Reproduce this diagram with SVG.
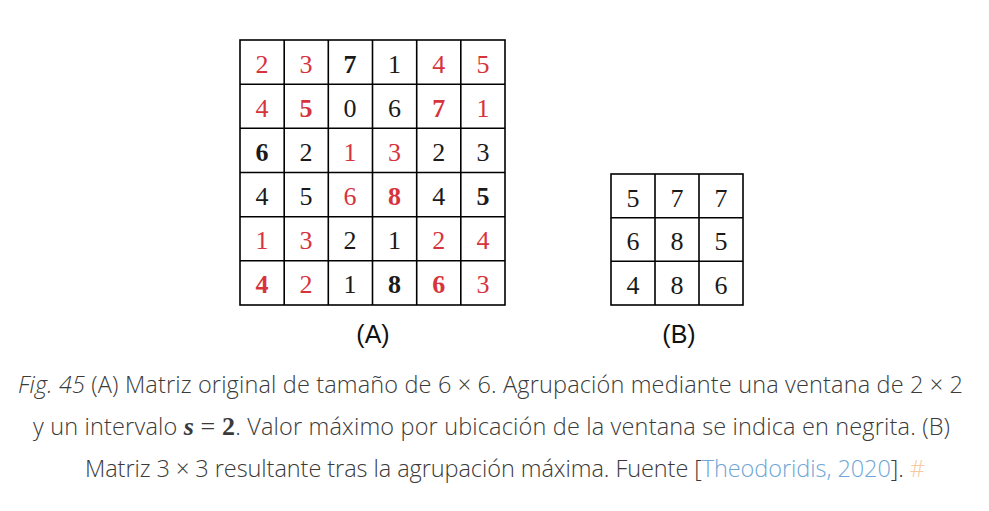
<svg xmlns="http://www.w3.org/2000/svg" width="989" height="511" viewBox="0 0 989 511">
<style>
.cell{fill:#fff;stroke:#000;stroke-width:1.6}
.n{font-family:"Liberation Serif","DejaVu Serif",serif;font-size:26px;text-anchor:middle;fill:#1a1a1a}
.r{fill:#d6343d}
.b{font-weight:bold}
.lab{font-family:"Liberation Sans",Arial,sans-serif;font-size:25px;text-anchor:middle;fill:#111}
.cap{font-family:"Open Sans","Noto Sans",sans-serif;font-weight:300;font-size:23.5px;fill:#3a3a3a}
</style>
<rect width="989" height="511" fill="#fff"/>
<g id="matrixA">
<rect class="cell" x="240" y="40" width="265" height="265"/>
<path d="M284.2 40V305M328.3 40V305M372.5 40V305M416.7 40V305M460.8 40V305M240 84.2H505M240 128.3H505M240 172.5H505M240 216.7H505M240 260.8H505" stroke="#000" stroke-width="1.6" fill="none"/>
<g class="n">
<text x="262" y="72.5" class="r">2</text><text x="306" y="72.5" class="r">3</text><text x="350" y="72.5" class="b">7</text><text x="394.5" y="72.5">1</text><text x="438.7" y="72.5" class="r">4</text><text x="483" y="72.5" class="r">5</text>
<text x="262" y="116.7" class="r">4</text><text x="306" y="116.7" class="r b">5</text><text x="350" y="116.7">0</text><text x="394.5" y="116.7">6</text><text x="438.7" y="116.7" class="r b">7</text><text x="483" y="116.7" class="r">1</text>
<text x="262" y="160.8" class="b">6</text><text x="306" y="160.8">2</text><text x="350" y="160.8" class="r">1</text><text x="394.5" y="160.8" class="r">3</text><text x="438.7" y="160.8">2</text><text x="483" y="160.8">3</text>
<text x="262" y="205">4</text><text x="306" y="205">5</text><text x="350" y="205" class="r">6</text><text x="394.5" y="205" class="r b">8</text><text x="438.7" y="205">4</text><text x="483" y="205" class="b">5</text>
<text x="262" y="249.2" class="r">1</text><text x="306" y="249.2" class="r">3</text><text x="350" y="249.2">2</text><text x="394.5" y="249.2">1</text><text x="438.7" y="249.2" class="r">2</text><text x="483" y="249.2" class="r">4</text>
<text x="262" y="293.3" class="r b">4</text><text x="306" y="293.3" class="r">2</text><text x="350" y="293.3">1</text><text x="394.5" y="293.3" class="b">8</text><text x="438.7" y="293.3" class="r b">6</text><text x="483" y="293.3" class="r">3</text>
</g>
<text class="lab" x="373" y="343">(A)</text>
</g>
<g id="matrixB">
<rect class="cell" x="611" y="174" width="132" height="131"/>
<path d="M655 174V305M699 174V305M611 217.7H743M611 261.3H743" stroke="#000" stroke-width="1.6" fill="none"/>
<g class="n">
<text x="633" y="206.5">5</text><text x="677" y="206.5">7</text><text x="721" y="206.5">7</text>
<text x="633" y="250">6</text><text x="677" y="250">8</text><text x="721" y="250">5</text>
<text x="633" y="293.5">4</text><text x="677" y="293.5">8</text><text x="721" y="293.5">6</text>
</g>
<text class="lab" x="679" y="343">(B)</text>
</g>
<g id="caption">
<text class="cap" x="18" y="393" textLength="945" lengthAdjust="spacing"><tspan font-style="italic">Fig. 45</tspan> (A) Matriz original de tamaño de 6 × 6. Agrupación mediante una ventana de 2 × 2</text>
<text class="cap" x="33" y="435" textLength="917" lengthAdjust="spacing">y un intervalo <tspan font-family="Liberation Serif,serif" font-weight="bold" font-style="italic" font-size="26">s</tspan><tspan font-family="Liberation Serif,serif" font-size="26" font-weight="normal"> = </tspan><tspan font-family="Liberation Serif,serif" font-weight="bold" font-size="26">2</tspan>. Valor máximo por ubicación de la ventana se indica en negrita. (B)</text>
<text class="cap" x="85" y="477" textLength="840" lengthAdjust="spacing">Matriz 3 × 3 resultante tras la agrupación máxima. Fuente [<tspan fill="#6fa6d6">Theodoridis, 2020</tspan>].  <tspan fill="#f6c8a2">#</tspan></text>
</g>
</svg>
